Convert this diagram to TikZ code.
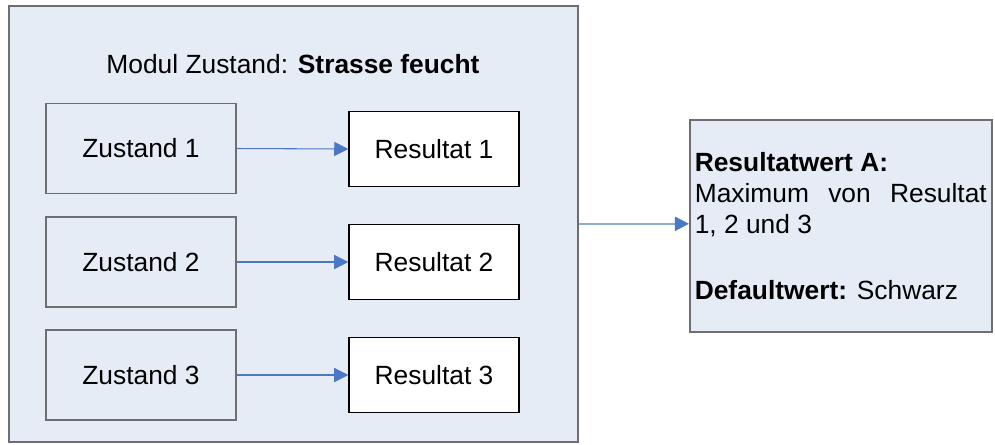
\documentclass[tikz,border=0pt]{standalone}
\usepackage{fontspec}
\setmainfont{Liberation Sans}
\usetikzlibrary{arrows.meta}

\definecolor{panelfill}{HTML}{E6ECF6}
\definecolor{framegray}{HTML}{6E6E72}
\definecolor{linkblue}{HTML}{4A78C2}
\definecolor{lightlink}{HTML}{8EAADB}

\tikzset{
  txt/.style={font=\fontsize{15}{17.6}\selectfont},
  panel/.style={draw=framegray, line width=0.9pt, fill=panelfill},
  statebox/.style={panel, txt, minimum width=3.8cm, minimum height=1.8cm},
  resultbox/.style={draw=black, line width=0.8pt, fill=white, txt,
    minimum width=3.4cm, minimum height=1.5cm},
  link/.style={draw=linkblue, line width=0.6pt,
    -{Triangle[length=8pt,width=8pt]}},
  outlink/.style={draw=lightlink, line width=1pt,
    -{Triangle[length=8pt,width=8pt,color=linkblue,fill=linkblue]}}
}

\begin{document}
\begin{tikzpicture}
  \useasboundingbox (0,0) rectangle (19.9,-8.88);

  % module frame
  \node[panel, anchor=north west, minimum width=11.38cm, minimum height=8.72cm,
        inner sep=0pt] (modul) at (0.16,-0.1) {};
  \node[txt] (title) at (5.86,-1.28) {Modul Zustand: \textbf{Strasse feucht}};

  % states
  \node[statebox] (z1) at (2.82,-2.97) {Zustand 1};
  \node[statebox] (z2) at (2.82,-5.24) {Zustand 2};
  \node[statebox] (z3) at (2.82,-7.50) {Zustand 3};

  % results
  \node[resultbox] (r1) at (8.68,-2.98) {Resultat 1};
  \node[resultbox] (r2) at (8.68,-5.24) {Resultat 2};
  \node[resultbox] (r3) at (8.68,-7.50) {Resultat 3};

  \draw[link] (z1.east) -- (r1.west);
  \draw[link] (z2.east) -- (r2.west);
  \draw[link] (z3.east) -- (r3.west);

  % combined result
  \node[panel, txt, anchor=north west, minimum width=6.04cm, minimum height=4.24cm,
        text width=5.84cm, align=justify, inner sep=0.1cm] (res) at (13.78,-2.38)
    {\textbf{Resultatwert A:}\\
     Maximum von Resultat\linebreak 1, 2 und 3\\[20pt]
     \textbf{Defaultwert:} Schwarz};

  \draw[outlink] (modul.east) -- (modul.east -| res.west);
\end{tikzpicture}
\end{document}
